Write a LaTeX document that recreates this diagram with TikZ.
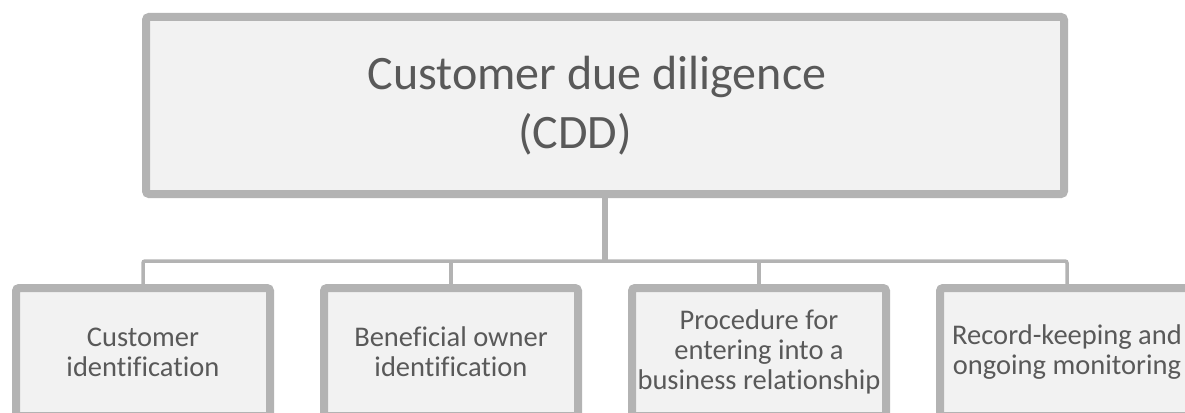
\documentclass[tikz,border=0pt]{standalone}
\usepackage{fontspec}
\setmainfont{Carlito}[Ligatures=CommonOff]
\usetikzlibrary{calc}
\definecolor{boxline}{HTML}{B3B3B3}
\definecolor{boxfill}{HTML}{F2F2F2}
\definecolor{boxtext}{HTML}{595959}
\tikzset{
  cddbox/.style={draw=boxline, fill=boxfill, line width=8pt, rounded corners=3pt,
    text=boxtext, align=center, inner sep=0pt},
  taskbox/.style={cddbox, minimum width=254pt, minimum height=128pt,
    font=\fontsize{28.5}{30}\selectfont},
  trunk/.style={draw=boxline, line width=6pt},
  branch/.style={draw=boxline, line width=3.5pt}
}
\begin{document}
\begin{tikzpicture}[x=1pt,y=-1pt]
\useasboundingbox (0,0) rectangle (1185,412);

% top box
\node[cddbox, minimum width=918pt, minimum height=177pt,
  font=\fontsize{48}{59}\selectfont] (cdd) at (605,105.5)
  {\hspace*{-16pt}Customer due diligence\\(CDD)\hspace*{60pt}};

% the four tasks
\node[taskbox] (ident) at (143,352) {Customer\\identification};
\node[taskbox] (owner) at (451,352) {Beneficial owner\\identification};
\node[taskbox] (proc) at (759,352) {Procedure for\\entering into a\\business relationship};
\node[taskbox] (record) at (1067,352) {Record-keeping and\\ongoing monitoring};

\coordinate (bus) at (605,261);

% connectors
\draw[trunk] (cdd.south) -- (bus);
\draw[branch, rounded corners=2pt] (ident.north) |- (bus) -| (record.north);
\draw[branch] (owner.north) -- (owner.north |- bus);
\draw[branch] (proc.north) -- (proc.north |- bus);
\end{tikzpicture}
\end{document}
